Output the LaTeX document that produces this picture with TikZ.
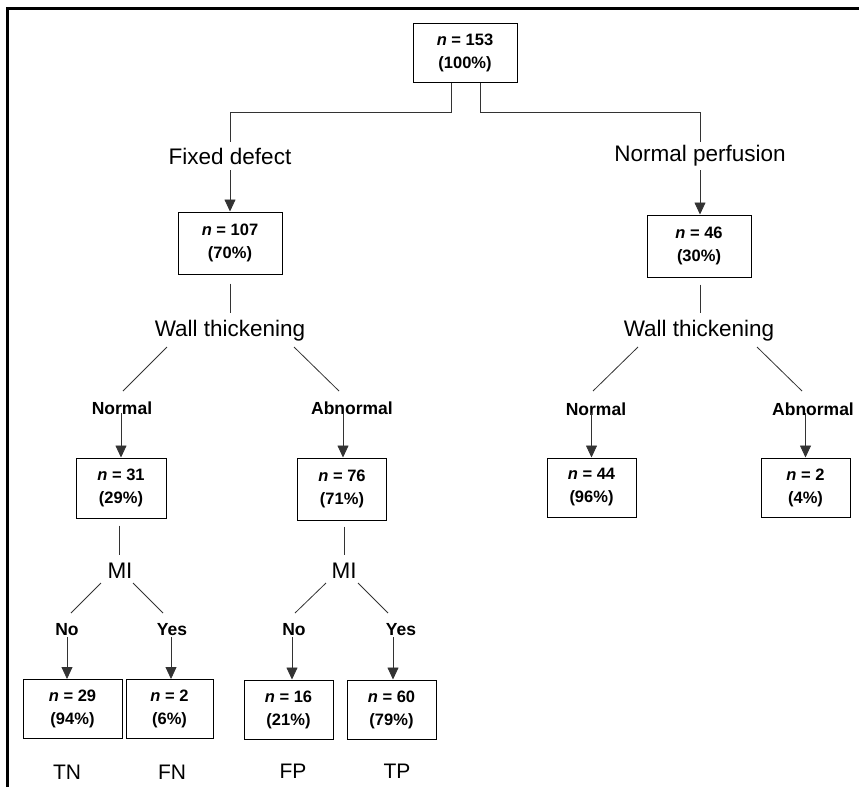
\documentclass[tikz,border=0pt]{standalone}
\usepackage{fontspec}
\setmainfont{Liberation Sans}
\usetikzlibrary{arrows.meta,calc}
\begin{document}
\begin{tikzpicture}[x=1pt,y=-1pt,
  box/.style={draw=black,line width=1pt,inner sep=0pt,align=center,
    font=\fontsize{16.5}{23}\selectfont\bfseries},
  cat/.style={inner sep=0pt,font=\fontsize{22.5}{26}\selectfont},
  outc/.style={inner sep=0pt,font=\fontsize{21}{24}\selectfont},
  br/.style={inner sep=0pt,font=\fontsize{17.5}{20}\selectfont\bfseries},
  con/.style={draw=black!80,line width=0.8pt},
  arr/.style={con,-{Triangle[width=11pt,length=12pt]}}
]
\useasboundingbox (0,0) rectangle (859,787);
% frame
\draw[line width=3pt] (7.5,787) -- (7.5,8) -- (859,8);

% nodes
\node[box,minimum width=104pt,minimum height=59pt] (top) at (465,52.5) {\textit{n} = 153\\(100\%)};
\node[cat] (fixed) at (230,156) {Fixed defect};
\node[cat] (normp) at (700,156) {Normal perfusion};
\node[box,minimum width=104pt,minimum height=62pt] (b107) at (230,243) {\textit{n} = 107\\(70\%)};
\node[box,minimum width=104pt,minimum height=62pt] (b46) at (699,246) {\textit{n} = 46\\(30\%)};
\node[cat] (wtL) at (230,331) {Wall thickening};
\node[cat] (wtR) at (699,331) {Wall thickening};
\node[br] (nL) at (122,408) {Normal};
\node[br] (aL) at (352,408) {Abnormal};
\node[br] (nR) at (596,409) {Normal};
\node[br] (aR) at (813,409) {Abnormal};
\node[box,minimum width=90pt,minimum height=60pt] (b31) at (121,488) {\textit{n} = 31\\(29\%)};
\node[box,minimum width=89pt,minimum height=62pt] (b76) at (342,489) {\textit{n} = 76\\(71\%)};
\node[box,minimum width=89pt,minimum height=59pt] (b44) at (591.5,487.5) {\textit{n} = 44\\(96\%)};
\node[box,minimum width=89pt,minimum height=59pt] (b2r) at (805.5,487.5) {\textit{n} = 2\\(4\%)};
\node[cat] (miL) at (120,571) {MI};
\node[cat] (miR) at (344,571) {MI};
\node[br] (noL) at (67,630) {No};
\node[br] (yesL) at (172,630) {Yes};
\node[br] (noR) at (294,630) {No};
\node[br] (yesR) at (401,630) {Yes};
\node[box,minimum width=99pt,minimum height=59pt] (b29) at (72.5,709) {\textit{n} = 29\\(94\%)};
\node[box,minimum width=87pt,minimum height=59pt] (b2) at (169.5,709) {\textit{n} = 2\\(6\%)};
\node[box,minimum width=89pt,minimum height=59pt] (b16) at (288.5,709.5) {\textit{n} = 16\\(21\%)};
\node[box,minimum width=89pt,minimum height=59pt] (b60) at (391.5,709.5) {\textit{n} = 60\\(79\%)};
\node[outc] (tn) at (67,772) {TN};
\node[outc] (fn) at (172,772) {FN};
\node[outc] (fp) at (293,771) {FP};
\node[outc] (tp) at (397,771) {TP};

% top split
\coordinate (fdt) at ($(fixed.center)+(0,-14)$);
\coordinate (npt) at ($(normp.center)+(0,-14)$);
\draw[con] ($(top.south)+(-14,0)$) -- ++(0,30) -| (fdt);
\draw[con] ($(top.south)+(15,0)$) -- ++(0,30) -| (npt);
\draw[arr] ($(fixed.center)+(0,14)$) -- (b107.north);
\draw[arr] ($(normp.center)+(0,14)$) -- (normp.center |- b46.north);

% below second level
\draw[con] ($(b107.south)+(0,9)$) -- ($(wtL.center)+(0,-18)$);
\draw[con] ($(b46.south)+(1,7)$) -- ($(wtR.center)+(1,-18)$);

% wall thickening diagonals
\draw[con] ($(wtL.center)+(-63,16)$) -- ($(nL.center)+(1,-17)$);
\draw[con] ($(wtL.center)+(64,16)$) -- ($(aL.center)+(-13,-17)$);
\draw[con] ($(wtR.center)+(-61,16)$) -- ($(nR.center)+(-3,-18)$);
\draw[con] ($(wtR.center)+(58,16)$) -- ($(aR.center)+(-11,-18)$);

% arrows to third level
\draw[arr] ($(nL.center)+(-1,5)$) -- (b31.north);
\draw[arr] ($(aL.center)+(-9,5)$) -- ($(b76.north)+(1,0)$);
\draw[arr] ($(b44.north)+(0,-45)$) -- (b44.north);
\draw[arr] ($(b2r.north)+(0,-45)$) -- (b2r.north);

% to MI
\draw[con] ($(b31.south)+(-2,7)$) -- ($(miL.center)+(-1,-16)$);
\draw[con] ($(b76.south)+(2,6)$) -- ($(miR.center)+(0,-16)$);

% MI diagonals
\draw[con] ($(miL.center)+(-19,12)$) -- ($(noL.center)+(4,-17)$);
\draw[con] ($(miL.center)+(13,12)$) -- ($(yesL.center)+(-9,-17)$);
\draw[con] ($(miR.center)+(-18,12)$) -- ($(noR.center)+(1,-17)$);
\draw[con] ($(miR.center)+(14,12)$) -- ($(yesR.center)+(-13,-17)$);

% arrows to leaves
\draw[arr] ($(noL.center)+(0,7)$) -- (noL.center |- b29.north);
\draw[arr] ($(yesL.center)+(-1,7)$) -- ($(yesL.center |- b2.north)+(-1,0)$);
\draw[arr] ($(noR.center)+(-2,7)$) -- ($(noR.center |- b16.north)+(-2,0)$);
\draw[arr] ($(yesR.center)+(-8,7)$) -- ($(yesR.center |- b60.north)+(-8,0)$);
\end{tikzpicture}
\end{document}
